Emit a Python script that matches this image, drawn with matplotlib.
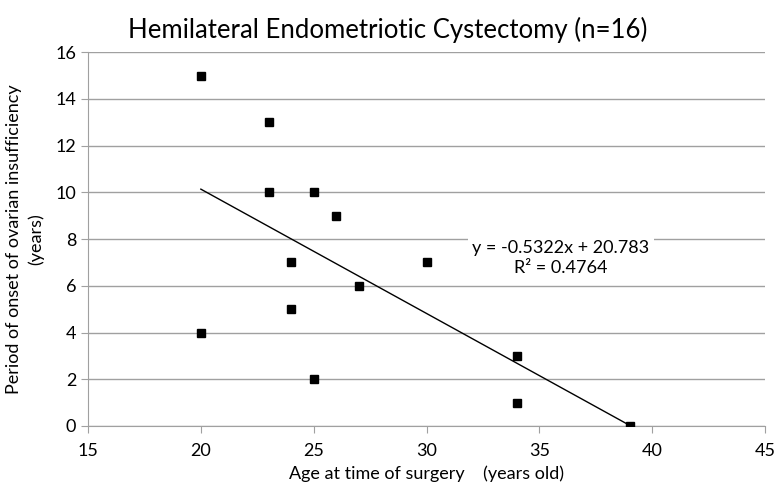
import matplotlib
matplotlib.use("Agg")
import matplotlib.pyplot as plt
import numpy as np

plt.rcParams['font.family'] = ['Lato', 'DejaVu Sans']

# data
age = [20, 23, 23, 25, 26, 24, 30, 27, 24, 20, 34, 25, 34, 39]
onset = [15, 13, 10, 10, 9, 7, 7, 6, 5, 4, 3, 2, 1, 0]

# linear trend shown on the chart
slope = -0.5322
intercept = 20.783
r2 = 0.4764

fig = plt.figure(figsize=(7.79, 4.93), dpi=100)
ax = fig.add_axes([0.113, 0.136, 0.869, 0.758])

ax.plot(age, onset, linestyle='none', marker='s', ms=6, color='black', zorder=4)

tx = np.array([min(age), max(age)])
ax.plot(tx, slope * tx + intercept, color='black', lw=1, zorder=2)

ax.set_xlim(15, 45)
ax.set_ylim(0, 16)
ax.set_xticks(range(15, 46, 5))
ax.set_yticks(range(0, 17, 2))
ax.grid(axis='y', color='#a0a0a0', lw=1)
ax.set_axisbelow(True)
for s in ['top', 'right']:
    ax.spines[s].set_visible(False)
for s in ['left', 'bottom']:
    ax.spines[s].set_color('#a0a0a0')
ax.tick_params(colors='#a0a0a0', labelcolor='black', labelsize=13, length=5)
ax.tick_params(axis='x', pad=7)

fig.text(0.498, 0.939, 'Hemilateral Endometriotic Cystectomy (n=16)', fontsize=18.5,
         ha='center', va='center')
ax.set_xlabel('Age at time of surgery    (years old)', fontsize=13, labelpad=5)
ax.set_ylabel('Period of onset of ovarian insufficiency\n(years)', fontsize=13,
              labelpad=8, linespacing=1.4)

ax.text(35.96, 7.2, 'y = -0.5322x + 20.783\nR² = 0.4764', ha='center', va='center',
        fontsize=13, linespacing=1.35, zorder=3,
        bbox=dict(facecolor='white', edgecolor='none', pad=3))

fig.savefig('out.png', dpi=100)
